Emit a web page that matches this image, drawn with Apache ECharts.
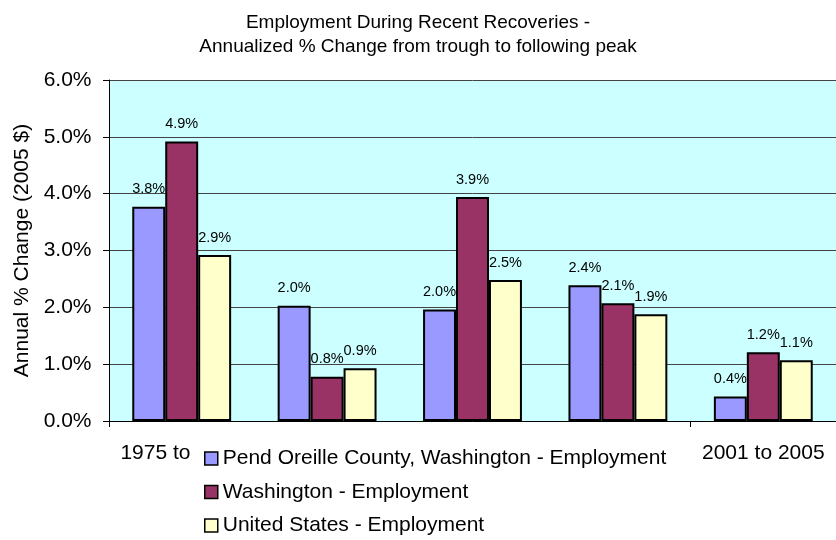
<!DOCTYPE html>
<html>
<head>
<meta charset="utf-8">
<script src="https://cdn.jsdelivr.net/npm/echarts@6/dist/echarts.min.js"></script>
<style>
  html, body { margin: 0; padding: 0; background: #fff; }
  #main { width: 836px; height: 540px; }
</style>
</head>
<body>
<div id="main"></div>
<script>
// recovery periods (middle labels are hidden behind the legend in the original)
var periods = ['1975 to 1979', '1980 to 1981', '1982 to 1990', '1991 to 2000', '2001 to 2005'];

var pendOreille = [3.77, 2.03, 1.96, 2.39, 0.43];
var washington = [4.92, 0.78, 3.94, 2.07, 1.21];
var unitedStates = [2.92, 0.93, 2.48, 1.88, 1.07];

var seriesNames = [
  'Pend Oreille County, Washington - Employment',
  'Washington - Employment',
  'United States - Employment'
];

var yTicks = [0, 1, 2, 3, 4, 5, 6];

var myChart = echarts.init(document.getElementById('main'));

var font = '"Liberation Sans", Arial, sans-serif';

function barSeries(name, data, color) {
  return {
    name: name,
    type: 'bar',
    data: data,
    barGap: '0%',
    barCategoryGap: '32%',
    itemStyle: { color: color, borderColor: '#000', borderWidth: 2 },
    label: {
      show: true,
      position: 'top',
      distance: 10,
      color: '#000',
      fontFamily: font,
      fontSize: 14.5,
      formatter: function (p) { return p.value.toFixed(1) + '%'; }
    }
  };
}

myChart.setOption({
  animation: false,
  textStyle: { fontFamily: font },
  title: {
    text: 'Employment During Recent Recoveries -\nAnnualized % Change from trough to following peak',
    left: 'center',
    top: 6,
    textStyle: { fontSize: 19, fontWeight: 'normal', color: '#000', lineHeight: 24, fontFamily: font }
  },
  // plot area runs past the right edge of the picture in the original
  grid: {
    left: 109, width: 732, top: 80, height: 341,
    show: true, backgroundColor: '#CCFFFF', borderWidth: 0
  },
  legend: {
    orient: 'vertical',
    left: 196,
    top: 444,
    height: 120,
    z: 10,
    backgroundColor: '#fff',
    padding: [4, 4, 4, 8],
    itemGap: 12.5,
    itemWidth: 13,
    itemHeight: 13,
    icon: 'rect',
    itemStyle: { borderColor: '#000', borderWidth: 1.5 },
    textStyle: { fontSize: 21, color: '#000', fontFamily: font },
    data: seriesNames
  },
  xAxis: {
    type: 'category',
    data: periods,
    axisLine: { lineStyle: { color: '#000', width: 1 } },
    axisTick: { show: true, length: 6, lineStyle: { color: '#000' } },
    axisLabel: {
      color: '#000', fontSize: 21, margin: 22, fontFamily: font,
      interval: function (idx) { return idx === 0 || idx === periods.length - 1; }
    }
  },
  yAxis: {
    type: 'value',
    min: yTicks[0],
    max: yTicks[yTicks.length - 1],
    interval: 1,
    name: 'Annual % Change (2005 $)',
    nameLocation: 'middle',
    nameGap: 75,
    nameTextStyle: { fontSize: 21, color: '#000', fontFamily: font },
    axisLine: { show: true, lineStyle: { color: '#000', width: 1 } },
    axisTick: { show: true, length: 6, lineStyle: { color: '#000' } },
    axisLabel: {
      color: '#000', fontSize: 21, margin: 17.5, fontFamily: font,
      formatter: function (v) { return v.toFixed(1) + '%'; }
    },
    splitLine: { lineStyle: { color: '#444', width: 1 } }
  },
  series: [
    barSeries(seriesNames[0], pendOreille, '#9999FF'),
    barSeries(seriesNames[1], washington, '#993366'),
    barSeries(seriesNames[2], unitedStates, '#FFFFCC')
  ]
});
</script>
</body>
</html>
